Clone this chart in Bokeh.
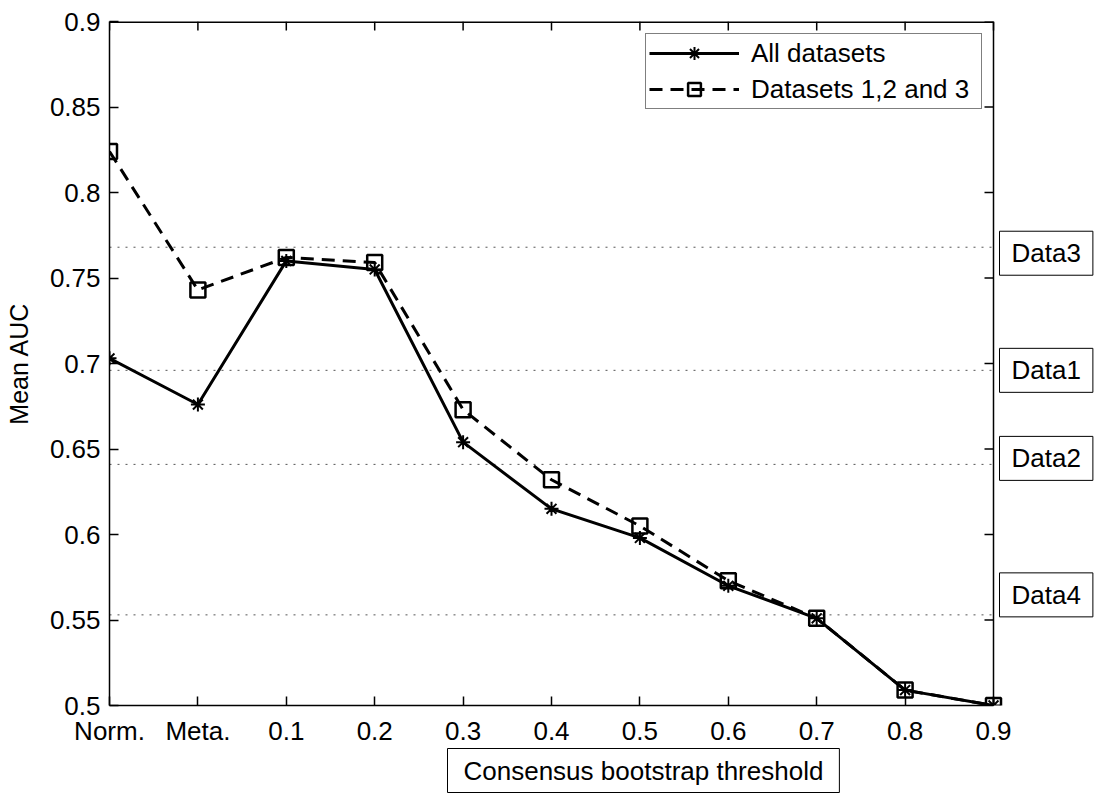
from bokeh.plotting import figure
from bokeh.models import (FixedTicker, LinearAxis, Span, Label, Legend, LegendItem,
                          CustomJSTickFormatter, Range1d, Title)
from bokeh.embed import file_html
from bokeh.resources import INLINE

categories = ["Norm.", "Meta.", "0.1", "0.2", "0.3", "0.4", "0.5", "0.6", "0.7", "0.8", "0.9"]
all_auc = [0.703, 0.676, 0.760, 0.755, 0.654, 0.615, 0.598, 0.570, 0.551, 0.509, 0.500]
sub_auc = [0.824, 0.743, 0.762, 0.759, 0.673, 0.632, 0.605, 0.573, 0.551, 0.509, 0.500]
ref_names = ["Data3", "Data1", "Data2", "Data4"]
ref_auc = [0.768, 0.696, 0.641, 0.553]
y_ticks = [0.5, 0.55, 0.6, 0.65, 0.7, 0.75, 0.8, 0.85, 0.9]
y_tick_labels = ["0.5", "0.55", "0.6", "0.65", "0.7", "0.75", "0.8", "0.85", "0.9"]

FONT = "Liberation Sans"
xs = list(range(len(categories)))
x_last = xs[-1]

W, H = 1097, 794
LEFT, TOP, BOTTOM = 109, 21, 88
PLOT_W = 884                       # width of the boxed axes area in px
frame_w = W - LEFT
x_end = x_last * frame_w / PLOT_W   # frame extends right to hold the boxed labels
px_x = PLOT_W / x_last             # px per x unit
px_y = (H - TOP - BOTTOM) / (y_ticks[-1] - y_ticks[0])
TICK = 9

p = figure(width=W, height=H, x_range=Range1d(0, x_end),
           y_range=Range1d(y_ticks[0], y_ticks[-1]), output_backend="svg",
           toolbar_location=None, min_border_left=LEFT, min_border_right=0,
           min_border_top=TOP, min_border_bottom=BOTTOM,
           x_axis_type=None, y_axis_type=None)
p.outline_line_color = None
p.background_fill_color = "white"
p.border_fill_color = "white"

def style_axis(ax):
    ax.major_tick_in = TICK
    ax.major_tick_out = 0
    ax.minor_tick_line_color = None
    ax.major_tick_line_color = "black"
    ax.major_tick_line_width = 1.5
    ax.axis_line_color = "black"
    ax.axis_line_width = 1.5
    ax.major_label_text_font = FONT
    ax.major_label_text_font_size = "26px"
    ax.major_label_text_color = "black"

xb = LinearAxis(ticker=FixedTicker(ticks=xs), bounds=(xs[0], x_last),
                major_label_overrides={i: c for i, c in enumerate(categories)})
style_axis(xb)
xb.major_label_standoff = 10
p.add_layout(xb, "below")

yl = LinearAxis(ticker=FixedTicker(ticks=y_ticks),
                formatter=CustomJSTickFormatter(args=dict(labels=y_tick_labels, vals=y_ticks),
                    code="let b=0, d=1e9; for (let i=0;i<vals.length;i++){const e=Math.abs(vals[i]-tick); if(e<d){d=e;b=i;}} return labels[b];"),
                axis_label="Mean AUC")
style_axis(yl)
yl.major_label_standoff = 9
yl.axis_label_standoff = 14
yl.axis_label_text_font = FONT
yl.axis_label_text_font_size = "25px"
yl.axis_label_text_font_style = "normal"
yl.axis_label_text_color = "black"
p.add_layout(yl, "left")

# right and top border of the axes box, with inward ticks
p.add_layout(Span(location=x_last, dimension="height", line_color="black", line_width=1.5))
p.segment(x0=[xs[0]], x1=[x_last], y0=[y_ticks[-1]], y1=[y_ticks[-1]],
          line_color="black", line_width=3)
p.segment(x0=xs, x1=xs, y0=[y_ticks[-1]] * len(xs),
          y1=[y_ticks[-1] - TICK / px_y] * len(xs), line_color="black", line_width=1.5)
p.segment(x0=[x_last] * len(y_ticks), x1=[x_last - TICK / px_x] * len(y_ticks),
          y0=y_ticks, y1=y_ticks, line_color="black", line_width=1.5)

# reference dotted lines
p.segment(x0=[xs[0]] * len(ref_auc), x1=[x_last] * len(ref_auc), y0=ref_auc, y1=ref_auc,
          line_color="#555555", line_dash="2 6", line_width=1)

# series
r2 = p.line(xs, sub_auc, line_color="black", line_width=3, line_dash="13 8")
s2 = p.scatter(xs, sub_auc, marker="square", size=15, fill_color=None,
               line_color="black", line_width=2.5)
r1 = p.line(xs, all_auc, line_color="black", line_width=3)
s1 = p.scatter(xs, all_auc, marker="asterisk", size=14, line_color="black", line_width=2)

legend = Legend(items=[LegendItem(label="All datasets", renderers=[r1, s1]),
                       LegendItem(label="Datasets 1,2 and 3", renderers=[r2, s2])],
                location=(536, 596), padding=3, spacing=4,
                glyph_width=90, glyph_height=32, label_height=32, label_width=227,
                label_standoff=12,
                label_text_font=FONT, label_text_font_size="26px", label_text_color="black",
                border_line_color="black", border_line_width=1.5,
                background_fill_color="white", background_fill_alpha=1)
p.add_layout(legend)

# boxed labels for the reference lines (right of the axes box)
label_dy = [-6, 0, 6, 20]
for name, v, dy in zip(ref_names, ref_auc, label_dy):
    p.add_layout(Label(x=x_last, y=v, x_offset=6, y_offset=dy, text=name,
                       text_font=FONT, text_font_size="26px", text_color="black",
                       text_align="left", text_baseline="middle",
                       border_line_color="black", border_line_width=1,
                       background_fill_color="white", padding=(12, 7)))

# boxed x-axis title
p.add_layout(Title(text="Consensus bootstrap threshold", align="left", offset=338,
                   vertical_align="top", standoff=0,
                   text_font=FONT, text_font_size="26px", text_font_style="normal",
                   text_color="black", border_line_color="black", border_line_width=1,
                   background_fill_color="white", padding=(16, 7)), "below")

open("out.html", "w").write(file_html(p, INLINE))
